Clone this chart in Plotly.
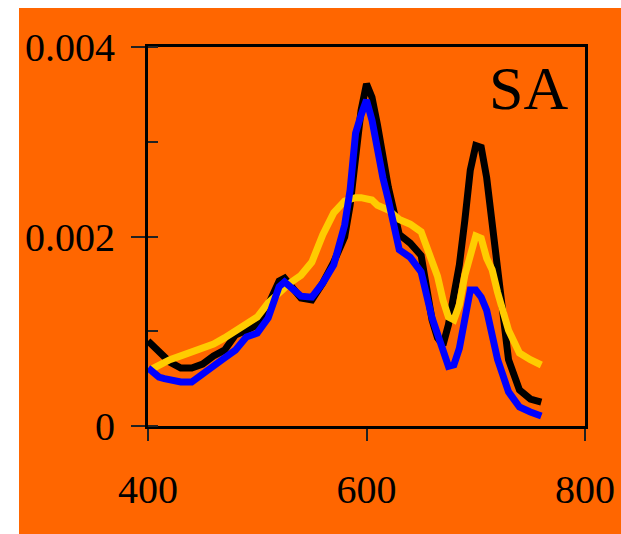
import plotly.graph_objects as go

wavelength = [400, 410, 415, 420, 430, 440, 450, 460, 470, 480, 490, 500, 510, 520, 525,
              530, 540, 550, 560, 570, 580, 585, 590, 595, 600, 605, 610, 615, 620, 630,
              640, 650, 660, 665, 670, 675, 680, 685, 690, 695, 700, 705, 710, 715, 720,
              730, 740, 750, 760]

black_vals = [0.897, 0.78, 0.73, 0.675, 0.612, 0.612, 0.654, 0.739, 0.80, 0.96, 1.01,
              1.066, 1.277, 1.53, 1.56, 1.49, 1.35, 1.33, 1.51, 1.73, 1.995, 2.33, 2.81,
              3.33, 3.61, 3.47, 3.18, 2.81, 2.52, 2.02, 1.93, 1.80, 1.12, 0.93, 0.855,
              1.07, 1.38, 1.70, 2.17, 2.70, 2.96, 2.94, 2.62, 2.15, 1.59, 0.70, 0.38,
              0.285, 0.253]

yellow_vals = [0.58, 0.644, 0.675, 0.70, 0.74, 0.78, 0.82, 0.865, 0.93, 1.01, 1.087,
               1.15, 1.30, 1.41, 1.46, 1.51, 1.59, 1.73, 2.02, 2.25, 2.375, 2.40, 2.41,
               2.41, 2.40, 2.385, 2.33, 2.30, 2.28, 2.18, 2.13, 2.05, 1.70, 1.58, 1.33,
               1.15, 1.12, 1.28, 1.59, 1.80, 2.005, 1.98, 1.77, 1.65, 1.41, 1.01, 0.77,
               0.70, 0.644]

blue_vals = [0.612, 0.517, 0.50, 0.485, 0.464, 0.464, 0.559, 0.633, 0.718, 0.80, 0.94,
             0.98, 1.14, 1.47, 1.52, 1.47, 1.37, 1.36, 1.51, 1.70, 2.12, 2.49, 3.09,
             3.28, 3.44, 3.23, 2.91, 2.62, 2.385, 1.86, 1.78, 1.625, 1.14, 0.99, 0.80,
             0.63, 0.645, 0.82, 1.12, 1.435, 1.435, 1.36, 1.22, 0.98, 0.70, 0.36, 0.20,
             0.148, 0.105]

scale = 1e-3
x_ticks = [400, 600, 800]
y_ticks = [0, 0.002, 0.004]
y_ticktext = ["0", "0.002", "0.004"]

ORANGE = "#FF6600"
FONT = "Liberation Serif, Times New Roman, serif"

fig = go.Figure()
for vals, color in [(black_vals, "#000000"), (yellow_vals, "#FFCC00"), (blue_vals, "#0000FF")]:
    fig.add_trace(go.Scatter(
        x=wavelength, y=[v * scale for v in vals], mode="lines",
        line=dict(color=color, width=7), showlegend=False, hoverinfo="skip"))

L, R, T, B = 148, 36, 47, 108
W, H = 621, 534
pw, ph = W - L - R, H - T - B

fig.add_shape(type="rect", xref="paper", yref="paper",
              x0=(19 - L) / pw, x1=(621 - L) / pw,
              y0=(H - B - 534) / ph, y1=(H - B - 8) / ph,
              fillcolor=ORANGE, line=dict(width=0), layer="below")

fig.add_annotation(text="SA", xref="paper", yref="paper",
                   x=(528 - L) / pw, y=(H - B - 88) / ph,
                   xanchor="center", yanchor="middle",
                   showarrow=False, font=dict(family=FONT, size=62, color="black"))

fig.update_layout(
    width=W, height=H,
    margin=dict(l=L, r=R, t=T, b=B, pad=0),
    paper_bgcolor="white", plot_bgcolor=ORANGE,
    font=dict(family=FONT, size=40, color="black"),
    xaxis=dict(range=[400, 800], tickvals=x_ticks, ticks="outside", ticklen=12,
               tickwidth=1.5, tickcolor="#222", showline=True, mirror=True,
               linecolor="black", linewidth=3, showgrid=False, zeroline=False,
               ticklabelstandoff=14, automargin=False),
    yaxis=dict(range=[0, 0.004], tickvals=y_ticks, ticktext=y_ticktext,
               ticks="outside", ticklen=14, tickwidth=1.5, tickcolor="#222",
               showline=True, mirror=True, linecolor="black", linewidth=3,
               showgrid=False, zeroline=False, ticklabelstandoff=8, automargin=False,
               minor=dict(ticks="inside", dtick=0.001, ticklen=10, tickwidth=1.5,
                          tickcolor="#222", showgrid=False)),
)

fig.write_html("out.html")
